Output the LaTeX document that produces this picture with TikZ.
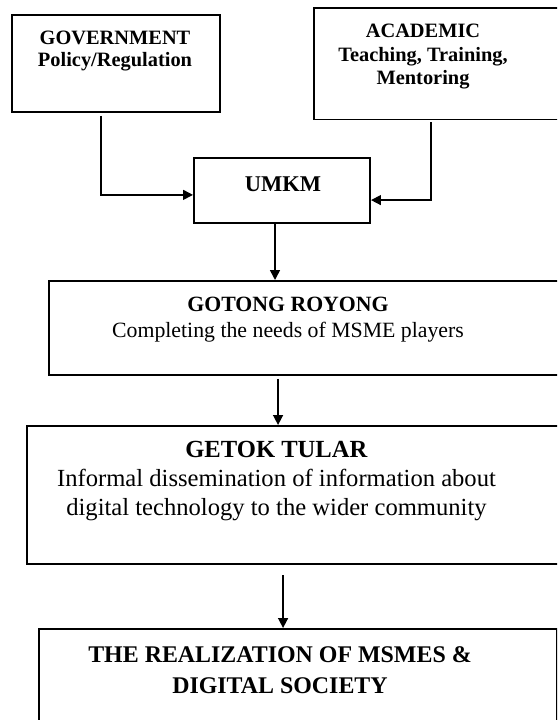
\documentclass[tikz,border=0pt]{standalone}
\usepackage{fontspec}
\setmainfont{Liberation Serif}
\usetikzlibrary{arrows.meta}

\tikzset{
  box/.style={draw, line width=1.4pt, rectangle, anchor=north west, inner sep=0pt},
  flow/.style={line width=1.1pt, -{Triangle[length=7pt,width=7pt]}},
  boxtext/.style={anchor=base, align=center, inner sep=0pt},
}

\begin{document}
\begin{tikzpicture}[x=0.025cm, y=-0.025cm]
  \useasboundingbox (0,0) rectangle (557,720);
  \clip (0,0) rectangle (557,720);
  % Boxes
  \node[box, minimum width=5.2cm, minimum height=2.425cm] (gov) at (11,14) {};
  \node[box, minimum width=7.4cm, minimum height=2.775cm] (acad) at (313,7.5) {};
  \node[box, minimum width=4.4cm, minimum height=1.625cm] (umkm) at (193,157) {};
  \node[box, minimum width=13.8cm, minimum height=2.35cm] (gotong) at (48,280) {};
  \node[box, minimum width=14.35cm, minimum height=3.45cm] (getok) at (26,425) {};
  \node[box, minimum width=12.95cm, minimum height=3.5cm] (result) at (38,628) {};
  % Texts (anchored at the last line)
  \node[boxtext, font=\bfseries\fontsize{14.5}{15.8}\selectfont] (govtext) at (115,67)
    {GOVERNMENT\\Policy/Regulation};
  \node[boxtext, font=\bfseries\fontsize{14.5}{17}\selectfont] (acadtext) at (423,85)
    {ACADEMIC\\Teaching, Training,\\Mentoring};
  \node[boxtext, font=\bfseries\fontsize{16}{18}\selectfont] (umkmtext) at (283,192) {UMKM};
  \node[boxtext, font=\fontsize{15.5}{17.8}\selectfont] (gotongtext) at (288,337)
    {\textbf{GOTONG ROYONG}\\Completing the needs of MSME players};
  \node[boxtext, font=\fontsize{17.5}{20.3}\selectfont] (getoktext) at (276.5,515)
    {\textbf{GETOK TULAR}\\Informal dissemination of information about\\digital technology to the wider community};
  \node[boxtext, font=\bfseries\fontsize{17}{22}\selectfont] (resulttext) at (280,693)
    {THE REALIZATION OF MSMES \&\\DIGITAL SOCIETY};
  % Draw the arrows
  \coordinate (umkmout) at ([xshift=-0.175cm]umkm.south);
  \coordinate (gotongout) at ([xshift=5.75cm, yshift=-0.075cm]gotong.south west);
  \coordinate (getokout) at ([xshift=6.425cm, yshift=-0.25cm]getok.south west);
  \draw[flow] ([xshift=-0.375cm, yshift=-0.075cm]gov.south) |- ([yshift=-0.11cm]umkm.west);
  \draw[flow] ([xshift=2.95cm, yshift=-0.05cm]acad.south west) |- ([yshift=-0.24cm]umkm.east);
  \draw[flow] (umkmout) -- (umkmout |- gotong.north);
  \draw[flow] (gotongout) -- (gotongout |- getok.north);
  \draw[flow] (getokout) -- (getokout |- result.north);
\end{tikzpicture}
\end{document}
